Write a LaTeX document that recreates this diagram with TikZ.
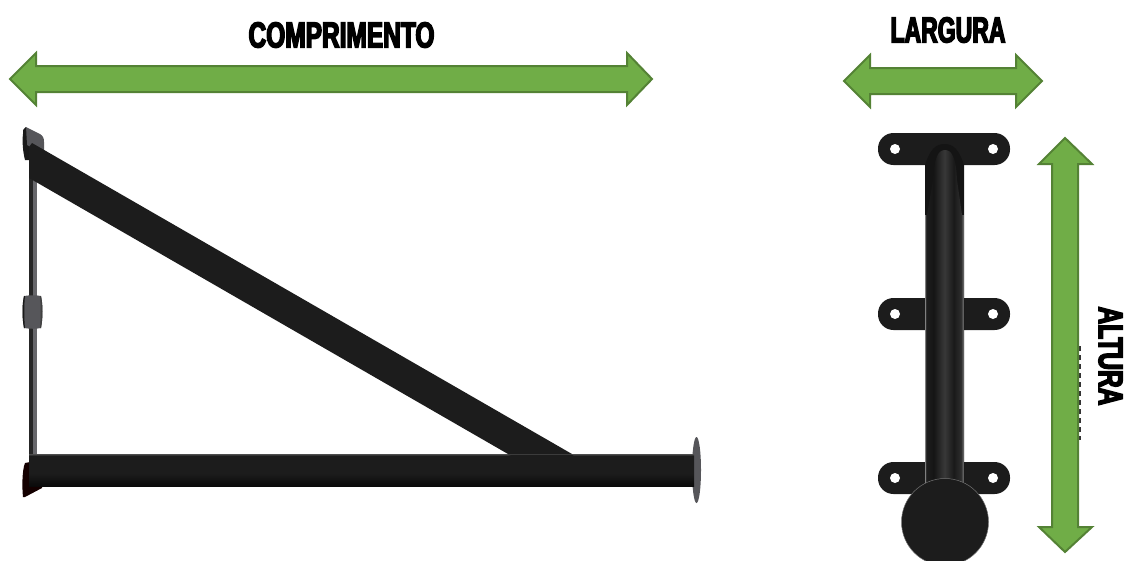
\documentclass[tikz,border=0pt]{standalone}
\usepackage{fontspec}
\newfontfamily\heavyfont[UprightFeatures={FakeStretch=0.68,FakeBold=4}]{Liberation Sans Bold}
\usetikzlibrary{arrows.meta}
\definecolor{arrowfill}{HTML}{70AD47}
\definecolor{arrowedge}{HTML}{548235}
\definecolor{steel}{HTML}{1C1C1C}
\definecolor{plategrey}{HTML}{56565A}
\pgfdeclarehorizontalshading{tubeshade}{100bp}{
    color(0bp)=(gray); color(25bp)=(gray); color(26.5bp)=(black!88); color(36bp)=(black!92);
    color(50bp)=(black!78); color(62bp)=(black!90); color(71bp)=(black!82); color(74bp)=(gray!80!black); color(100bp)=(gray!80!black)}
\pgfdeclareverticalshading{barshade}{100bp}{
    color(0bp)=(black!96); color(25bp)=(black!96); color(45bp)=(black!89); color(72bp)=(black!89); color(75bp)=(black!70); color(100bp)=(black!70)}
\tikzset{
    bigarrow/.style = {fill = arrowfill, draw = arrowedge, line width = 2pt, miter limit = 10},
    dimlabel/.style = {font = \heavyfont\fontsize{36}{36}\selectfont, inner sep = 0pt, text = black},
    plate/.style = {fill = steel, rounded corners = 15.5pt},
    hole/.style = {fill = white, draw = none},
}
\begin{document}
\begin{tikzpicture}[x = 1pt, y = -1pt]
    \useasboundingbox (0, 0) rectangle (1124, 560);
    \clip (0, 0) rectangle (1124, 560);

    % top arrows
    \draw [bigarrow] (10, 79) -- (36, 53) -- (36, 66) -- (627, 66) -- (627, 53) -- (652, 79)
        -- (627, 105) -- (627, 92) -- (36, 92) -- (36, 105) -- cycle;
    \draw [bigarrow] (844, 81) -- (870, 55) -- (870, 68) -- (1016, 68) -- (1016, 55) -- (1042, 81)
        -- (1016, 107) -- (1016, 94) -- (870, 94) -- (870, 107) -- cycle;

    % scrap of hidden lettering along the height arrow
    \draw [line width = 2pt, black!80, dash pattern = on 5pt off 4pt] (1080, 346) -- (1080, 440);
    \draw [bigarrow] (1065, 138) -- (1092, 164) -- (1078, 164) -- (1078, 527) -- (1092, 527) -- (1065, 552)
        -- (1039, 527) -- (1052, 527) -- (1052, 164) -- (1039, 164) -- cycle;

    \node [dimlabel] (lengthlabel) at (341.5, 35) {COMPRIMENTO};
    \node [dimlabel, xscale = 0.94] (widthlabel) at (948, 30) {LARGURA};
    \node [dimlabel, rotate = -90, yscale = 0.95] (heightlabel) at (1110.5, 356) {ALTURA};

    % side view
    \fill [plategrey] (26, 127) -- (40, 134) .. controls (43, 136) and (44, 138) .. (44, 142)
        -- (44, 152) -- (26, 150) -- cycle;
    \fill [black!90] (26, 127) .. controls (23, 128) and (23, 130) .. (23, 134)
        .. controls (22, 142) and (23, 152) .. (25, 160) -- (30, 160) -- (30, 147) -- (27, 145) -- cycle;
    \fill [black!85] (29, 150) rectangle (33, 470);
    \fill [plategrey!90] (33, 150) rectangle (37, 470);
    \fill [plategrey] (24, 296) .. controls (30, 295) and (36, 295) .. (41, 296)
        .. controls (43, 305) and (43, 318) .. (41, 328) .. controls (36, 329) and (30, 329) .. (24, 328)
        .. controls (22, 318) and (22, 305) .. cycle;
    \fill [black!90] (24, 296) .. controls (22, 305) and (22, 318) .. (24, 328) -- (25, 328)
        .. controls (24, 318) and (24, 305) .. (25, 296) -- cycle;
    \fill [black!75] (41, 296) .. controls (43, 305) and (43, 318) .. (41, 328) -- (40, 328)
        .. controls (41, 318) and (41, 305) .. (40, 296) -- cycle;

    \fill [black!92!red] (25, 463) .. controls (22, 470) and (22, 488) .. (23, 497) -- (25, 497) -- (42, 488) -- (42, 475) -- (30, 462) -- cycle;
    \fill [steel] (29, 147) -- (32, 143) -- (572, 454) -- (508, 454) -- (36, 182) -- (29, 178) -- cycle;
    \fill [plategrey] (696.5, 470) ellipse [x radius = 4.5, y radius = 33];
    \shade [shading = barshade] (29, 454) rectangle (694, 486);
    \fill [black!89] (508, 454.7) -- (572, 454.7) -- (592, 470) -- (545, 470) -- cycle;

    % end view
    \foreach \platey in {133, 298, 462} {
        \fill [plate] (878, \platey) rectangle (1010, \platey + 32);
        \fill [hole] (895, \platey + 16) circle [radius = 5];
        \fill [hole] (993, \platey + 16) circle [radius = 5];
    }
    \fill [black!92] (925, 490) -- (925, 165) .. controls (930, 150) and (935, 144) .. (944.5, 144)
        .. controls (954, 144) and (959, 150) .. (964, 165) -- (964, 490) -- cycle;
    \begin{scope}
        \clip (925, 490) -- (925, 215) -- (927, 215) -- (933, 180) .. controls (934, 158) and (938, 150) .. (945, 150)
            .. controls (952, 150) and (956, 158) .. (957, 180) -- (962, 215) -- (964, 215) -- (964, 490) -- cycle;
        \shade [shading = tubeshade] (925, 145) rectangle (964, 490);
    \end{scope}
    \fill [steel, draw = black!55, line width = 0.5pt] (945, 522) circle [radius = 43.5];
\end{tikzpicture}
\end{document}
